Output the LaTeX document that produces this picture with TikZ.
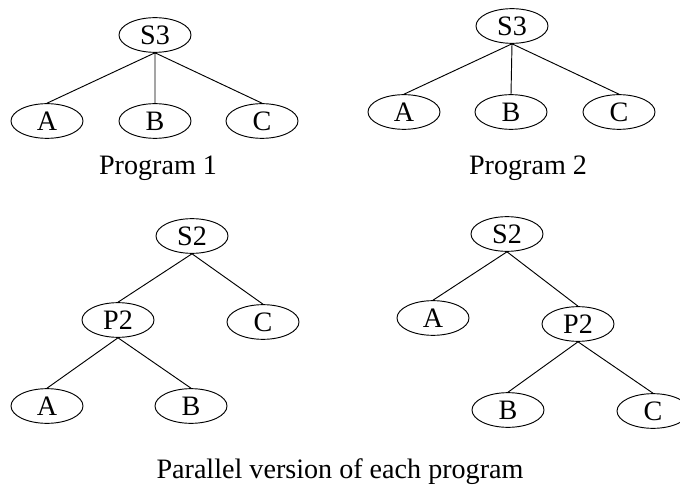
\documentclass[tikz,border=0pt]{standalone}
\usepackage{fontspec}
\setmainfont{Liberation Serif}
\usetikzlibrary{shapes.geometric}
\begin{document}
\begin{tikzpicture}[x=0.015cm, y=-0.015cm, font=\fontsize{12}{14}\selectfont,
	tnode/.style={draw, ellipse, minimum width=1.08cm, minimum height=0.52cm, inner sep=0pt},
	edge/.style={line cap=round}]
	\useasboundingbox (0,0) rectangle (680,489);
	% program 1
	\node[tnode] (s3a) at (155,35) {S3};
	\node[tnode] (a1) at (47,121) {A};
	\node[tnode] (b1) at (155,121) {B};
	\node[tnode] (c1) at (262,121) {C};
	\node[anchor=base] (prog1) at (158,175) {Program 1};
	\draw[edge] (a1.north)--(s3a.south)--(b1.north) (s3a.south)--(c1.north);
	% program 2
	\node[tnode] (s3b) at (512,26) {S3};
	\node[tnode] (a2) at (404,112) {A};
	\node[tnode] (b2) at (511,112) {B};
	\node[tnode] (c2) at (619,112) {C};
	\node[anchor=base] (prog2) at (528,175) {Program 2};
	\draw[edge] (a2.north)--(s3b.south)--(b2.north) (s3b.south)--(c2.north);
	% parallel versions
	\node[tnode] (s2a) at (192,236) {S2};
	\node[tnode] (p2a) at (118,320) {P2};
	\node[tnode] (c3) at (263,322) {C};
	\node[tnode] (a3) at (47,406) {A};
	\node[tnode] (b3) at (191,406) {B};
	\draw[edge] (p2a.north)--(s2a.south)--(c3.north) (a3.north)--(p2a.south)--(b3.north);
	\node[tnode] (s2b) at (507,234) {S2};
	\node[tnode] (a4) at (433,318) {A};
	\node[tnode] (p2b) at (578,324) {P2};
	\node[tnode] (b4) at (508,410) {B};
	\node[tnode] (c4) at (653,411) {C};
	\draw[edge] (a4.north)--(s2b.south)--(p2b.north) (b4.north)--(p2b.south)--(c4.north);
	\node[anchor=base] (caption) at (340,478) {Parallel version of each program};
\end{tikzpicture}
\end{document}
